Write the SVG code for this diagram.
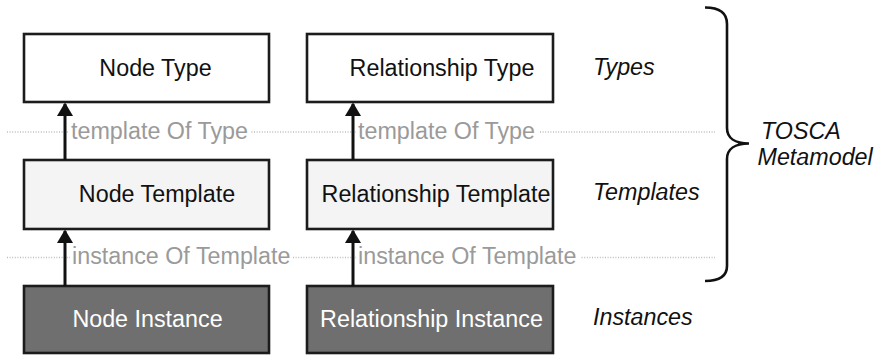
<svg xmlns="http://www.w3.org/2000/svg" width="880" height="356" viewBox="0 0 880 356">
  <style>
    .box { stroke: #1c1c1c; stroke-width: 2.6; }
    .type { fill: #ffffff; }
    .tmpl { fill: #f4f4f4; }
    .inst { fill: #6f6f6f; }
    .lbl { font-family: "Liberation Sans", Arial, sans-serif; font-size: 23.3px; text-anchor: middle; }
    .dark { fill: #111111; }
    .light { fill: #ffffff; }
    .edge { font-family: "Liberation Sans", Arial, sans-serif; font-size: 23.3px; fill: #9a9a9a; }
    .side { font-family: "Liberation Sans", Arial, sans-serif; font-size: 23.3px; font-style: italic; fill: #111111; }
    .sep { stroke: #bdbdbd; stroke-width: 1.5; stroke-dasharray: 1 1.6; fill: none; }
    .shaft { stroke: #111111; stroke-width: 3; fill: none; }
    .tip { fill: #111111; }
    .mask { fill: #ffffff; }
  </style>

  <rect width="880" height="356" fill="#ffffff"/>

  <!-- layer separators -->
  <g id="separators">
    <line class="sep" x1="7" y1="132" x2="715" y2="132"/>
    <line class="sep" x1="7" y1="257.5" x2="715" y2="257.5"/>
  </g>

  <!-- Types layer -->
  <g id="node-type">
    <rect class="box type" x="24" y="34" width="245" height="68"/>
    <text class="lbl dark" x="155.5" y="76">Node Type</text>
  </g>
  <g id="relationship-type">
    <rect class="box type" x="307" y="34" width="246" height="68"/>
    <text class="lbl dark" x="442" y="76">Relationship Type</text>
  </g>

  <!-- Templates layer -->
  <g id="node-template">
    <rect class="box tmpl" x="24" y="160" width="245" height="69"/>
    <text class="lbl dark" x="157" y="202">Node Template</text>
  </g>
  <g id="relationship-template">
    <rect class="box tmpl" x="307" y="160" width="246" height="69"/>
    <text class="lbl dark" x="436" y="202">Relationship Template</text>
  </g>

  <!-- Instances layer -->
  <g id="node-instance">
    <rect class="box inst" x="24" y="286" width="245" height="67"/>
    <text class="lbl light" x="147.5" y="327">Node Instance</text>
  </g>
  <g id="relationship-instance">
    <rect class="box inst" x="307" y="286" width="246" height="67"/>
    <text class="lbl light" x="431.5" y="327">Relationship Instance</text>
  </g>

  <!-- connectors -->
  <g id="connectors">
    <path class="shaft" d="M65 160 V104"/>
    <path class="tip" d="M57 116 L65 102.5 L73 116 Z"/>
    <path class="shaft" d="M353 160 V104"/>
    <path class="tip" d="M345 116 L353 102.5 L361 116 Z"/>
    <path class="shaft" d="M65 286 V231"/>
    <path class="tip" d="M57 243 L65 229.5 L73 243 Z"/>
    <path class="shaft" d="M353 286 V231"/>
    <path class="tip" d="M345 243 L353 229.5 L361 243 Z"/>

    <rect class="mask" x="69" y="118" width="182" height="26"/>
    <text class="edge" x="71" y="138.5">template Of Type</text>
    <rect class="mask" x="356" y="118" width="183" height="26"/>
    <text class="edge" x="358" y="138.5">template Of Type</text>
    <rect class="mask" x="70" y="244" width="222" height="26"/>
    <text class="edge" x="72" y="264">instance Of Template</text>
    <rect class="mask" x="356" y="244" width="225" height="26"/>
    <text class="edge" x="358" y="264">instance Of Template</text>
  </g>

  <!-- layer names -->
  <g id="layer-labels">
    <text class="side" x="593" y="75">Types</text>
    <text class="side" x="593" y="200">Templates</text>
    <text class="side" x="593" y="325">Instances</text>
  </g>

  <!-- brace grouping the metamodel layers -->
  <g id="metamodel-brace">
    <path d="M705 7.5 C719 7.5 727 12 727 24 L727 128 C727 138 735 143.5 749 143.5 C735 143.5 727 149 727 159 L727 266 C727 277 719 281 705 281" fill="none" stroke="#111111" stroke-width="2.6"/>
    <text class="side" x="761" y="138.5">TOSCA</text>
    <text class="side" x="757.5" y="165">Metamodel</text>
  </g>
</svg>
